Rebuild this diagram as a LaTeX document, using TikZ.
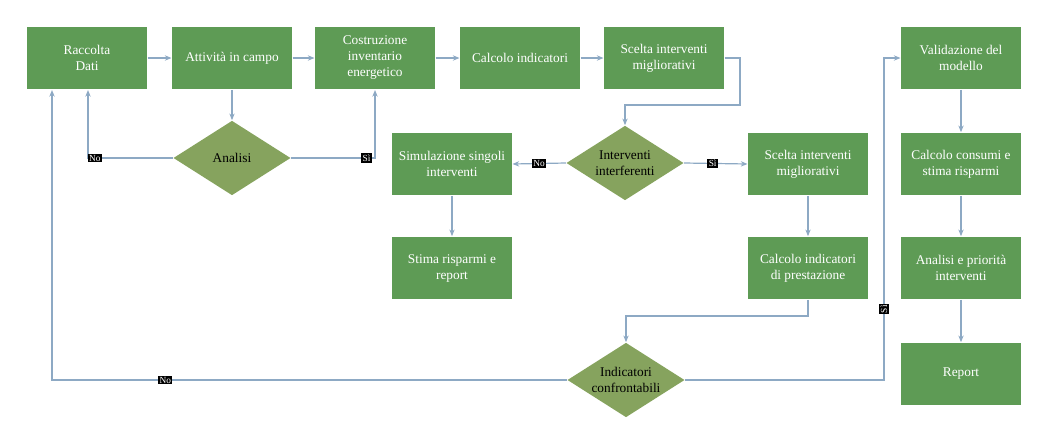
\documentclass[tikz,border=0pt]{standalone}
\usepackage{fontspec}
\setmainfont{Liberation Serif}
\usetikzlibrary{shapes.geometric,arrows.meta}
\definecolor{boxgreen}{HTML}{5E9B55}
\definecolor{dmdgreen}{HTML}{86A35E}
\definecolor{linkblue}{HTML}{8DA9C4}
\tikzset{every picture/.style={line width=0.75pt}}
\tikzset{
  stage/.style={draw=none,fill=boxgreen,text=white,align=center,minimum width=90pt,minimum height=47pt,inner sep=1pt,font=\normalsize},
  choice/.style={diamond,draw=none,fill=dmdgreen,text=black,align=center,minimum width=88pt,minimum height=56pt,aspect=1.6,inner sep=0pt,font=\normalsize},
  link/.style={draw=linkblue,line width=0.9pt,-{Stealth[length=5pt,width=4pt]}},
  tag/.style={fill=black,text=white,font=\scriptsize,inner sep=1pt}
}

\begin{document}
\begin{tikzpicture}[x=0.75pt,y=0.75pt,yscale=-1,xscale=1]
\useasboundingbox (0,0) rectangle (1051,440);

% first row
\node[stage] (raccolta) at (87,58) {Raccolta\\Dati};
\node[stage] (campo) at (232,58) {Attività in campo};
\node[stage] (inventario) at (375,58) {Costruzione\\inventario\\energetico};
\node[stage] (calcolo) at (520,58) {Calcolo indicatori};
\node[stage] (scelta) at (664,58) {Scelta interventi\\migliorativi};
\node[stage] (validazione) at (961,58) {Validazione del\\modello};

% second row
\node[choice] (analisi) at (232,158) {Analisi};
\node[stage] (simulazione) at (452,164) {Simulazione singoli\\interventi};
\node[choice] (interferenti) at (625,163) {Interventi\\interferenti};
\node[stage] (scelta2) at (808,164) {Scelta interventi\\migliorativi};
\node[stage] (consumi) at (961,164) {Calcolo consumi e\\stima risparmi};

% third row
\node[stage] (stima) at (452,268) {Stima risparmi e\\report};
\node[stage] (prestazione) at (808,268) {Calcolo indicatori\\di prestazione};
\node[stage] (priorita) at (961,268) {Analisi e priorità\\interventi};

% fourth row
\node[choice] (confronto) at (626,380) {Indicatori\\confrontabili};
\node[stage] (report) at (961,374) {Report};

% connectors
\draw[link] (raccolta) -- (campo);
\draw[link] (campo) -- (inventario);
\draw[link] (inventario) -- (calcolo);
\draw[link] (calcolo) -- (scelta);
\draw[link] (campo) -- (analisi);
\draw[link] (analisi.west) -| (88,90) node[tag,pos=0.46] {No};
\draw[link] (analisi.east) -| (375,90) node[tag,pos=0.45] {Sì};
\draw[link] (scelta.east) -| (740,105) -| (interferenti.north);
\draw[link] (interferenti.west) -- (simulazione.east) node[tag,pos=0.5] {No};
\draw[link] (interferenti.east) -- (scelta2.west) node[tag,pos=0.45] {Sì};
\draw[link] (simulazione) -- (stima);
\draw[link] (scelta2) -- (prestazione);
\draw[link] (prestazione.south) |- (626,316) -- (confronto.north);
\draw[link] (confronto.west) -| (52,90) node[tag,pos=0.39] {No};
\draw[link] (confronto.east) -| (884,58) node[tag,pos=0.61,rotate=90] {Sì} -- (validazione.west);
\draw[link] (validazione) -- (consumi);
\draw[link] (consumi) -- (priorita);
\draw[link] (priorita) -- (report);

\end{tikzpicture}
\end{document}
